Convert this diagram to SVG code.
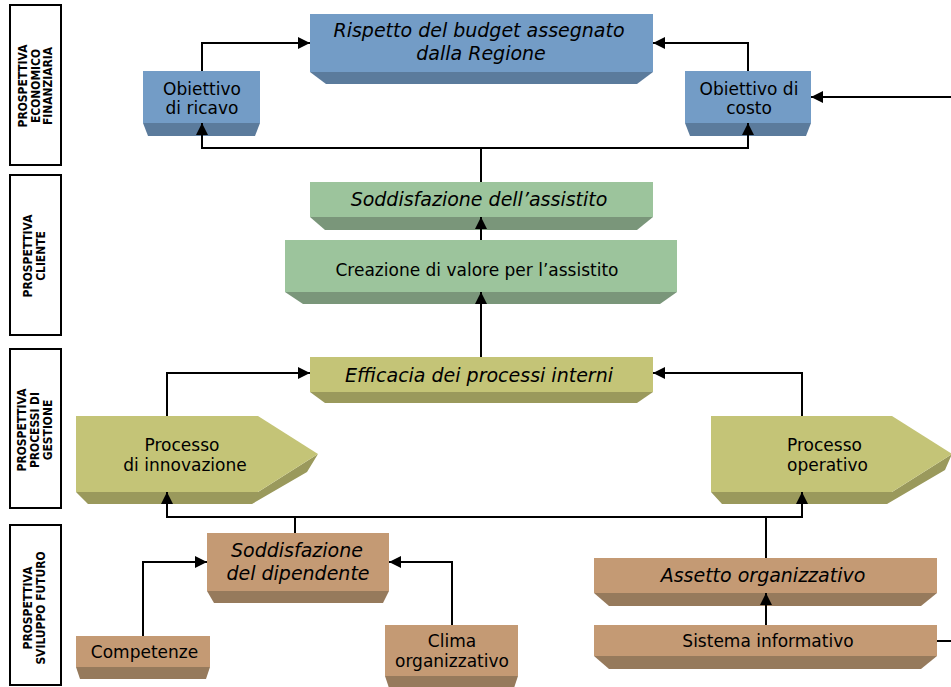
<svg xmlns="http://www.w3.org/2000/svg" width="951" height="687" viewBox="0 0 951 687">
  <defs>
    <marker id="arrow" markerUnits="userSpaceOnUse" markerWidth="13" markerHeight="13" refX="12" refY="6" orient="auto">
      <path d="M0,0 L12,6 L0,12 z" fill="#000"/>
    </marker>
    <style>
      .lab { fill: #fff; stroke: #000; stroke-width: 2; }
      .labt { font-family: "DejaVu Sans", Verdana, sans-serif; font-weight: bold; font-size: 12.2px; fill: #000; text-anchor: middle; }
      .t { font-family: "DejaVu Sans", Verdana, sans-serif; font-size: 17px; fill: #000; text-anchor: middle; }
      .ti { font-family: "DejaVu Sans", Verdana, sans-serif; font-size: 19px; font-style: italic; fill: #000; text-anchor: middle; }
      .bf { fill: #739cc6; } .bb { fill: #5b7b9c; }
      .gf { fill: #9cc49c; } .gb { fill: #7a967a; }
      .of { fill: #c4c477; } .ob { fill: #9a995c; }
      .nf { fill: #c49a74; } .nb { fill: #967a5c; }
      .conn path { fill: none; stroke: #000; stroke-width: 2; }
      .arr { marker-end: url(#arrow); }
    </style>
  </defs>

  <rect width="951" height="687" fill="#fff"/>

  <!-- perspective labels: vertical, condensed bold caps -->
  <g id="lab-economico">
    <rect class="lab" x="10" y="5" width="51" height="160"/>
    <text class="labt" transform="translate(35.5,86) rotate(-90) scale(0.88,1)"><tspan x="0" y="-8.5">PROSPETTIVA</tspan><tspan x="0" y="4">ECONOMICO</tspan><tspan x="0" y="16.5">FINANZIARIA</tspan></text>
  </g>
  <g id="lab-cliente">
    <rect class="lab" x="10" y="175" width="51" height="160"/>
    <text class="labt" transform="translate(35.5,256) rotate(-90) scale(0.88,1)"><tspan x="0" y="-3.5">PROSPETTIVA</tspan><tspan x="0" y="9.5">CLIENTE</tspan></text>
  </g>
  <g id="lab-processi">
    <rect class="lab" x="10" y="349" width="51" height="159"/>
    <text class="labt" transform="translate(35.5,430) rotate(-90) scale(0.88,1)"><tspan x="0" y="-9.5">PROSPETTIVA</tspan><tspan x="0" y="3.5">PROCESSI DI</tspan><tspan x="0" y="16.5">GESTIONE</tspan></text>
  </g>
  <g id="lab-sviluppo">
    <rect class="lab" x="10" y="525" width="51" height="160"/>
    <text class="labt" transform="translate(35.5,608) rotate(-90) scale(0.88,1)"><tspan x="0" y="-3.5">PROSPETTIVA</tspan><tspan x="0" y="9.5">SVILUPPO FUTURO</tspan></text>
  </g>

  <!-- economic-financial nodes -->
  <g id="budget">
    <polygon class="bb" points="310,72 653,72 637,84 326,84"/>
    <rect class="bf" x="310" y="14" width="343" height="58"/>
    <text class="ti" x="479" y="37">Rispetto del budget assegnato</text>
    <text class="ti" x="481" y="60">dalla Regione</text>
  </g>
  <g id="ricavo">
    <polygon class="bb" points="143,123 260,123 255,136 148,136"/>
    <rect class="bf" x="143" y="71" width="117" height="52"/>
    <text class="t" x="202" y="95">Obiettivo</text>
    <text class="t" x="202" y="114">di ricavo</text>
  </g>
  <g id="costo">
    <polygon class="bb" points="685,123 811,123 806,136 690,136"/>
    <rect class="bf" x="685" y="71" width="126" height="52"/>
    <text class="t" x="749" y="95">Obiettivo di</text>
    <text class="t" x="749" y="114">costo</text>
  </g>

  <!-- customer nodes -->
  <g id="soddisfazione-assistito">
    <polygon class="gb" points="310,217 653,217 637,230 325,230"/>
    <rect class="gf" x="310" y="182" width="343" height="35"/>
    <text class="ti" x="479" y="206">Soddisfazione dell’assistito</text>
  </g>
  <g id="creazione-valore">
    <polygon class="gb" points="285,292 677,292 660,304 303,304"/>
    <rect class="gf" x="285" y="240" width="392" height="52"/>
    <text class="t" x="477" y="276">Creazione di valore per l’assistito</text>
  </g>

  <!-- internal process nodes -->
  <g id="efficacia">
    <polygon class="ob" points="310,392 653,392 637,403 325,403"/>
    <rect class="of" x="310" y="357" width="343" height="35"/>
    <text class="ti" x="479" y="382">Efficacia dei processi interni</text>
  </g>
  <g id="innovazione">
    <polygon class="ob" points="76,492 258,492 318,454 307,472 252,504 88,504"/>
    <polygon class="of" points="76,416 258,416 318,454 258,492 76,492"/>
    <text class="t" x="182" y="451">Processo</text>
    <text class="t" x="185" y="471">di innovazione</text>
  </g>
  <g id="operativo">
    <polygon class="ob" points="711,492 892,492 952,454 945,470 887,504 722,504"/>
    <polygon class="of" points="711,416 892,416 952,454 892,492 711,492"/>
    <text class="t" x="787" y="451" style="text-anchor:start">Processo</text>
    <text class="t" x="787" y="471" style="text-anchor:start">operativo</text>
  </g>

  <!-- learning and growth nodes -->
  <g id="soddisfazione-dipendente">
    <polygon class="nb" points="207,591 389,591 383,603 214,603"/>
    <rect class="nf" x="207" y="533" width="182" height="58"/>
    <text class="ti" x="297" y="557">Soddisfazione</text>
    <text class="ti" x="298" y="580">del dipendente</text>
  </g>
  <g id="competenze">
    <polygon class="nb" points="76,667 210,667 206,679 80,679"/>
    <rect class="nf" x="76" y="636" width="134" height="31"/>
    <text class="t" x="144.5" y="658">Competenze</text>
  </g>
  <g id="clima">
    <polygon class="nb" points="385,676 518,676 514,688 389,688"/>
    <rect class="nf" x="385" y="625" width="133" height="51"/>
    <text class="t" x="452" y="647">Clima</text>
    <text class="t" x="452" y="667">organizzativo</text>
  </g>
  <g id="assetto">
    <polygon class="nb" points="594,593 937,593 921,606 609,606"/>
    <rect class="nf" x="594" y="558" width="343" height="35"/>
    <text class="ti" x="763" y="582">Assetto organizzativo</text>
  </g>
  <g id="sistema">
    <polygon class="nb" points="594,656 937,656 921,669 609,669"/>
    <rect class="nf" x="594" y="625" width="343" height="31"/>
    <text class="t" x="768" y="647">Sistema informativo</text>
  </g>

  <!-- connectors -->
  <g id="connectors" class="conn">
    <path class="arr" d="M202,71 V43 H310"/>
    <path class="arr" d="M748,71 V43 H653"/>
    <path class="arr" d="M481,182 V148 H202 V123"/>
    <path class="arr" d="M481,148 H748 V123"/>
    <path class="arr" d="M951,97 H811"/>
    <path class="arr" d="M481,240 V217"/>
    <path class="arr" d="M481,357 V292"/>
    <path class="arr" d="M167,416 V373 H310"/>
    <path class="arr" d="M802,416 V373 H653"/>
    <path class="arr" d="M295,533 V517 H167 V492"/>
    <path class="arr" d="M295,517 H802 V492"/>
    <path d="M766,558 V517"/>
    <path class="arr" d="M143,636 V562 H207"/>
    <path class="arr" d="M452,625 V562 H389"/>
    <path class="arr" d="M766,625 V593"/>
    <path d="M937,641 H951"/>
  </g>
</svg>
